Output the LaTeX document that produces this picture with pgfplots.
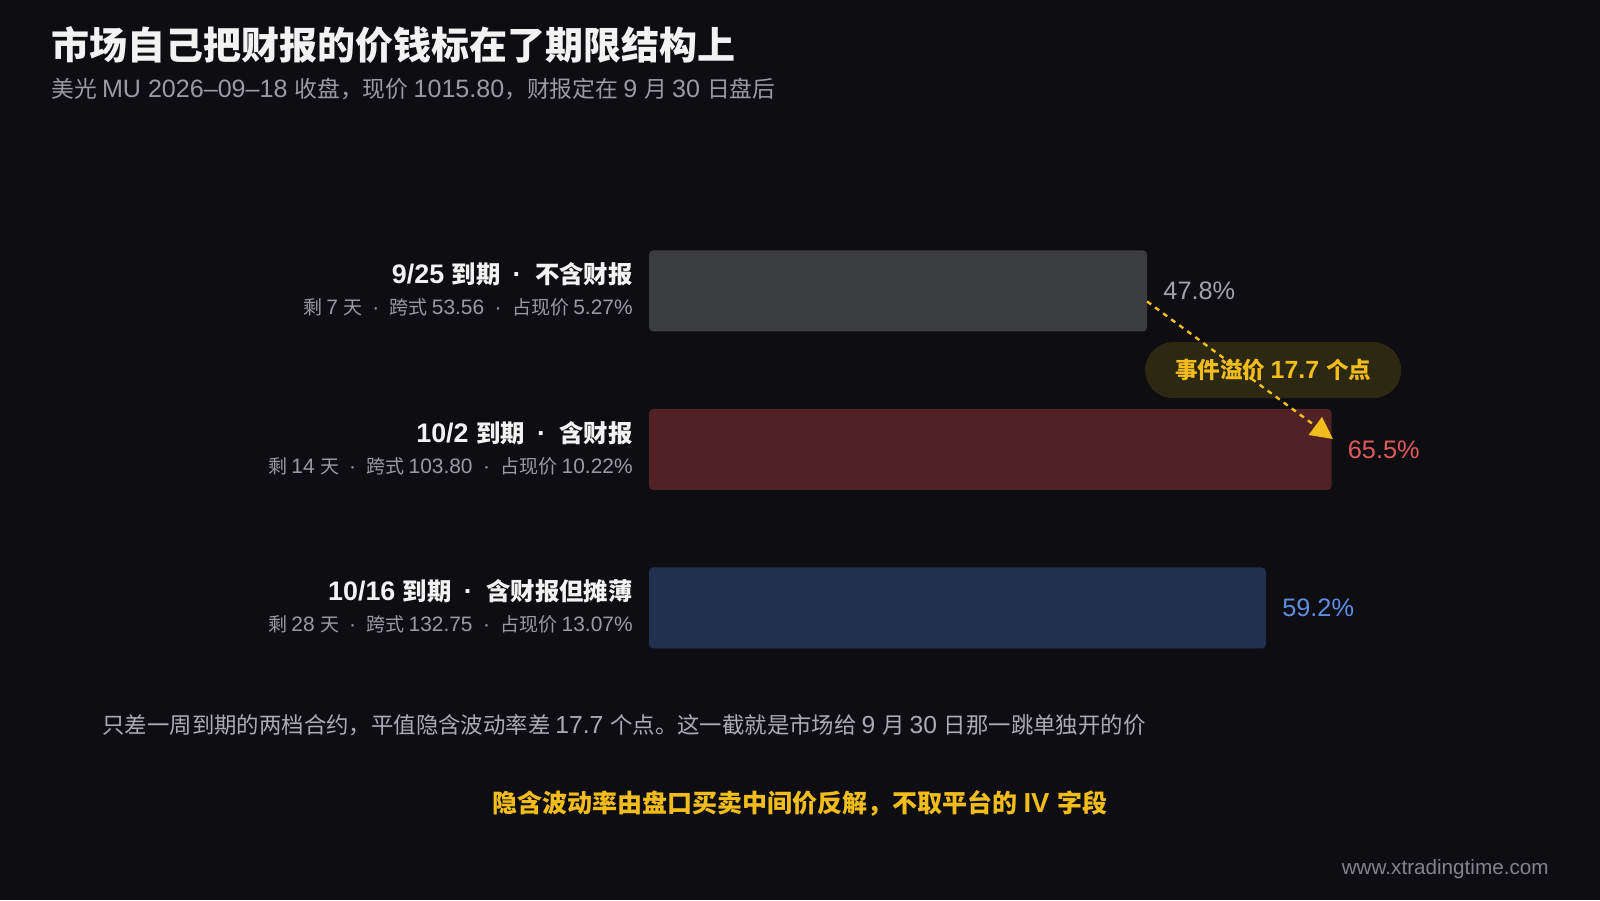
\documentclass[border=0pt]{standalone}
\usepackage{pgfplots}
\pgfplotsset{compat=1.18}
\usepackage{fontspec}
\setmainfont{Liberation Sans}[Scale=1.1]
\newfontfamily\latf{Liberation Sans}[Scale=1.1]
\newfontfamily\cjkf{Noto Sans CJK SC}
\usetikzlibrary{arrows.meta}

% switch to the CJK font for ideographs and CJK punctuation, back to Latin otherwise
\XeTeXinterchartokenstate=1
\newXeTeXintercharclass\CJKcls
\newcount\cc
\def\setcls#1#2{\cc=#1 \loop \XeTeXcharclass\cc=\CJKcls \ifnum\cc<#2 \advance\cc by 1 \repeat}
\setcls{"4E00}{"9FFF}
\setcls{"3000}{"303F}
\setcls{"FF00}{"FFEF}
\XeTeXinterchartoks 0 \CJKcls = {\cjkf}
\XeTeXinterchartoks 4095 \CJKcls = {\cjkf}
\XeTeXinterchartoks \CJKcls 0 = {\latf}
\XeTeXinterchartoks 4095 0 = {\latf}

\newcommand\sep{\hspace{0.5em}·\hspace{0.5em}}

\definecolor{bg}{HTML}{0E0E12}
\definecolor{bargray}{HTML}{3B3C40}
\definecolor{barred}{HTML}{502226}
\definecolor{barblue}{HTML}{22304F}
\definecolor{valgray}{HTML}{A2A3AA}
\definecolor{valred}{HTML}{E05A5C}
\definecolor{valblue}{HTML}{5E8FE4}
\definecolor{subgray}{HTML}{9A9AA2}
\definecolor{accent}{HTML}{F2BC1B}
\definecolor{pill}{HTML}{2C2812}

\tikzset{
  rowmain/.style={anchor=base east, inner sep=0pt, xshift=-8pt, yshift=3.65pt,
    text=white!95!black, font=\fontsize{12.2}{14}\selectfont\bfseries},
  rowsub/.style={anchor=base east, inner sep=0pt, xshift=-8pt, yshift=-12pt,
    text=subgray, font=\fontsize{9.5}{11}\selectfont},
}

\begin{document}
\begin{tikzpicture}
  % canvas: 1600x900 px at 0.5pt per px
  \fill[bg] (0,0) rectangle (800pt,450pt);
  \useasboundingbox (0,0) rectangle (800pt,450pt);

  \node[anchor=west, inner sep=0pt, text=white!95!black, font=\fontsize{19}{22}\selectfont\bfseries]
    at (25.5pt,427.5pt) {市场自己把财报的价钱标在了期限结构上};
  \node[anchor=west, inner sep=0pt, text=subgray, font=\fontsize{11.4}{13}\selectfont]
    at (25.5pt,405.5pt) {美光 MU 2026–09–18 收盘，现价 1015.80，财报定在 9 月 30 日盘后};

  \begin{axis}[
    at={(324.5pt,106.4pt)}, anchor=south west,
    scale only axis, width=521pt, height=237.75pt,
    xmin=0, xmax=100, ymin=-0.5, ymax=2.5,
    hide axis, clip=false,
    xbar, bar shift=0pt, bar width=0.511,
    point meta=x,
    /pgf/number format/assume math mode=true,
    nodes near coords={\pgfmathprintnumber[fixed,precision=1,fixed zerofill]{\pgfplotspointmeta}\%},
    nodes near coords style={anchor=west, inner sep=0pt, xshift=8pt,
      font=\fontsize{11.5}{13}\selectfont},
  ]
    \addplot[draw=none, fill=bargray, rounded corners=2pt, nodes near coords style={text=valgray}]
      coordinates {(47.8,2)};
    \addplot[draw=none, fill=barred, rounded corners=2pt, nodes near coords style={text=valred}]
      coordinates {(65.5,1)};
    \addplot[draw=none, fill=barblue, rounded corners=2pt, nodes near coords style={text=valblue}]
      coordinates {(59.2,0)};

    % row labels
    \node[rowmain] at (axis cs:0,2) {9/25 到期\sep{}不含财报};
    \node[rowsub]  at (axis cs:0,2) {剩 7 天\sep{}跨式 53.56\sep{}占现价 5.27\%};
    \node[rowmain] at (axis cs:0,1) {10/2 到期\sep{}含财报};
    \node[rowsub]  at (axis cs:0,1) {剩 14 天\sep{}跨式 103.80\sep{}占现价 10.22\%};
    \node[rowmain] at (axis cs:0,0) {10/16 到期\sep{}含财报但摊薄};
    \node[rowsub]  at (axis cs:0,0) {剩 28 天\sep{}跨式 132.75\sep{}占现价 13.07\%};

    % event premium callout
    \node[fill=pill, rounded corners=14pt, minimum width=128pt, minimum height=28pt, inner sep=0pt]
      (pl) at (axis cs:59.9,1.5) {};
    \draw[accent, line width=1.2pt, dash pattern=on 2.5pt off 2.5pt,
      -{Triangle[length=11pt,width=11pt]}] (axis cs:47.8,1.934) -- (axis cs:65.64,1.066);
    \node[text=accent, font=\fontsize{11.3}{13}\selectfont\bfseries] at (pl.center) {事件溢价 17.7 个点};
  \end{axis}

  \node[anchor=west, inner sep=0pt, text=valgray!90!white, font=\fontsize{11.2}{12}\selectfont]
    at (51pt,87.25pt) {只差一周到期的两档合约，平值隐含波动率差 17.7 个点。这一截就是市场给 9 月 30 日那一跳单独开的价};
  \node[inner sep=0pt, text=accent, font=\fontsize{12.5}{14}\selectfont\bfseries]
    at (400pt,48.5pt) {隐含波动率由盘口买卖中间价反解，不取平台的 IV 字段};
  \node[anchor=east, inner sep=0pt, text=subgray!85!black, font=\fontsize{9.4}{11}\selectfont]
    at (774.5pt,15.5pt) {www.xtradingtime.com};
\end{tikzpicture}
\end{document}
